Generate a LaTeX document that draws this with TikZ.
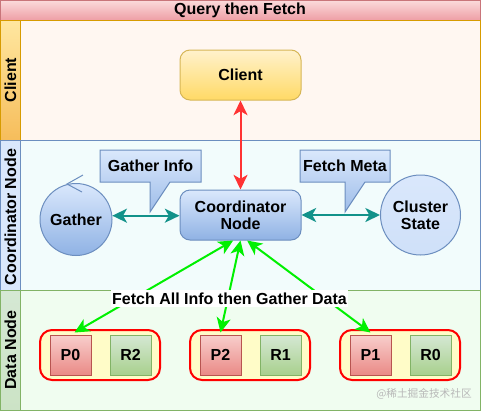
\documentclass[tikz,border=0pt]{standalone}
\usepackage{fontspec}
\setmainfont{Liberation Sans}
\newfontfamily\cjk{Noto Sans CJK SC}
\usetikzlibrary{arrows.meta}
\definecolor{titletop}{HTML}{FBDADA}
\definecolor{titlebot}{HTML}{EE9FA6}
\definecolor{titleline}{HTML}{C9757A}
\definecolor{orangeline}{HTML}{D79B00}
\definecolor{clientlane}{HTML}{FFF7F1}
\definecolor{clienttop}{HTML}{FFE7A0}
\definecolor{clientbot}{HTML}{F6BD5B}
\definecolor{blueline}{HTML}{6C8EBF}
\definecolor{bluelight}{HTML}{DAE8FC}
\definecolor{bluedark}{HTML}{8FB2E4}
\definecolor{coordlane}{HTML}{F2FCFC}
\definecolor{greenline}{HTML}{82B366}
\definecolor{greenlight}{HTML}{D5E8D4}
\definecolor{greendark}{HTML}{A8D08D}
\definecolor{datalane}{HTML}{F0FDF0}
\definecolor{yellowline}{HTML}{D6B656}
\definecolor{yellowlight}{HTML}{FFF2CC}
\definecolor{yellowdark}{HTML}{FFD966}
\definecolor{redline}{HTML}{B85450}
\definecolor{redlight}{HTML}{F8CECC}
\definecolor{reddark}{HTML}{EA8A86}
\definecolor{groupfill}{HTML}{FFFCC8}
\definecolor{tealarrow}{HTML}{12928A}
\definecolor{redarrow}{HTML}{FF3333}
\definecolor{greenarrow}{HTML}{00F000}
\definecolor{wmgray}{HTML}{B8B8B8}
\begin{document}
\begin{tikzpicture}[x=0.75pt,y=-0.75pt,
  txt/.style={font=\bfseries\fontsize{12}{14}\selectfont, text=black},
  lanelabel/.style={txt, rotate=90, inner sep=0pt},
  roundbox/.style={txt, draw, line width=0.75pt, rounded corners=7.5pt, align=center,
    minimum width=90.75pt, minimum height=37.5pt, inner sep=0pt},
  clientbox/.style={roundbox, draw=yellowline, top color=yellowlight, bottom color=yellowdark},
  coordbox/.style={roundbox, draw=blueline, top color=bluelight, bottom color=bluedark},
  circnode/.style={txt, circle, draw=blueline, line width=0.75pt, align=center, inner sep=0pt},
  groupbox/.style={draw=red, line width=1.5pt, fill=groupfill, rounded corners=9pt,
    minimum width=90pt, minimum height=37.5pt, inner sep=0pt},
  shardbox/.style={txt, line width=0.75pt, minimum width=30.75pt, minimum height=30pt, inner sep=0pt},
  primary/.style={shardbox, draw=redline, top color=redlight, bottom color=reddark},
  replica/.style={shardbox, draw=greenline, top color=greenlight, bottom color=greendark},
  callout/.style={draw=blueline, line width=0.75pt, top color=bluelight, bottom color=bluedark!80!bluelight},
  conn/.style={line width=1.5pt, {Stealth[length=11pt,width=10.5pt,inset=3pt]}-{Stealth[length=11pt,width=10.5pt,inset=3pt]}}
]
\useasboundingbox (0,0) rectangle (481,411);
% pool and lanes
\fill[white] (0,0) rectangle (481,411);
\draw[titleline, line width=0.75pt, top color=titletop, bottom color=titlebot] (0.5,0.5) rectangle (480,20);
\node[txt] (title) at (240,10.5) {Query then Fetch};
% client lane
\draw[orangeline, line width=0.75pt, fill=clientlane] (20,20) rectangle (480,140);
\draw[orangeline, line width=0.75pt, top color=clienttop, bottom color=clientbot] (0.5,20) rectangle (20,140);
\node[lanelabel] (lclient) at (10.5,80) {Client};
% coordinator lane
\draw[blueline, line width=0.75pt, fill=coordlane] (20,140) rectangle (480,290);
\draw[blueline, line width=0.75pt, fill=bluelight] (0.5,140) rectangle (20,290);
\node[lanelabel] (lcoord) at (10.5,217) {Coordinator Node};
% data lane
\draw[greenline, line width=0.75pt, fill=datalane] (20,290) rectangle (480,410);
\draw[greenline, line width=0.75pt, top color=greenlight, bottom color=greenlight!80!greendark] (0.5,290) rectangle (20,410);
\node[lanelabel] (ldata) at (10.5,350) {Data Node};

% nodes
\node[clientbox] (client) at (240.5,75) {Client};
\node[coordbox] (coord) at (240.5,215) {Coordinator\\[-1pt]Node};
\node[circnode, minimum size=54pt, top color=bluelight, bottom color=bluedark] (gather) at (76,219.5) {Gather};
\node[circnode, minimum size=60pt, top color=bluelight, bottom color=bluelight!85!bluedark] (cluster) at (420.5,215) {Cluster\\[-1pt]State};
% loop marker on gather
\draw[blueline, line width=0.75pt] (83,175) -- (67,184) -- (82,192);

% callouts
\draw[callout] (100,150) -- (201,150) -- (201,182) -- (170,182) -- (150,212) -- (150,182) -- (100,182) -- cycle;
\node[txt] (ginfo) at (150.5,165.5) {Gather Info};
\draw[callout] (300,150) -- (390,150) -- (390,182) -- (365,182) -- (345,212) -- (345,182) -- (300,182) -- cycle;
\node[txt] (fmeta) at (345,165.5) {Fetch Meta};

% data groups
\node[groupbox] (g0) at (100,355) {};
\node[groupbox] (g1) at (250,355) {};
\node[groupbox] (g2) at (400,355) {};
\node[primary] (p0) at (70.5,355) {P0};
\node[replica] (r2) at (130.5,355) {R2};
\node[primary] (p2) at (220.5,355) {P2};
\node[replica] (r1) at (280.5,355) {R1};
\node[primary] (p1) at (370.5,355) {P1};
\node[replica] (r0) at (430.5,355) {R0};

% connectors
\draw[conn, redarrow] (coord.north) -- (client.south);
\draw[conn, tealarrow] (gather.6) -- (gather.6 -| coord.west);
\draw[conn, tealarrow] (coord.east) -- (cluster.west);
\draw[conn, greenarrow] ([xshift=-5.5pt]coord.south) -- ([xshift=3pt,yshift=1.5pt]p0.north);
\draw[conn, greenarrow] (coord.south) -- ([yshift=1.5pt]p2.north);
\draw[conn, greenarrow] ([xshift=5pt]coord.south) -- ([yshift=1.5pt]p1.north);
\node[txt, fill=white, inner sep=1pt, minimum height=12.5pt] (flabel) at (229.5,298.5) {Fetch All Info then Gather Data};

% watermark
\node[font=\cjk\fontsize{8}{10}\selectfont, text=wmgray] (wm) at (424,394) {@稀土掘金技术社区};
\end{tikzpicture}
\end{document}
